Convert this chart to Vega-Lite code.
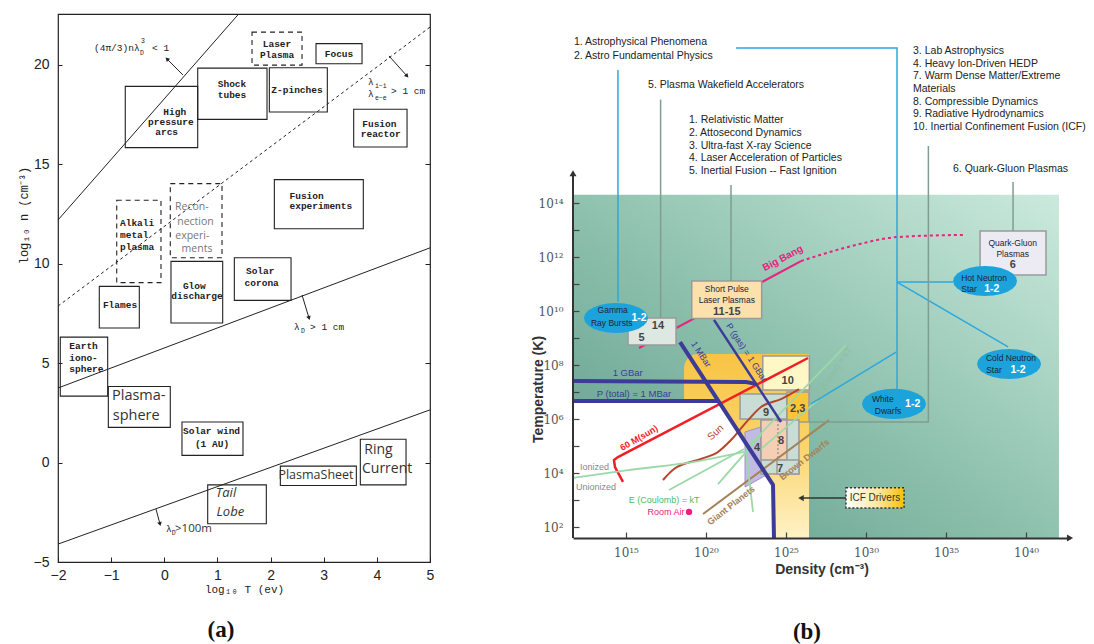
{
  "$schema": "https://vega.github.io/schema/vega-lite/v6.json",
  "padding": {"left": 16, "top": 11, "right": 5, "bottom": 2},
  "background": "white",
  "spacing": 143,
  "bounds": "flush",
  "config": {"view": {"stroke": null}, "font": "Liberation Sans", "axis": {"grid": false}},
  "datasets": {
    "a_regions": [
      {"region": "Laser Plasma", "status": "tentative", "x1": 1.651, "x2": 2.592, "y1": 19.99, "y2": 21.65},
      {"region": "Focus", "status": "established", "x1": 2.855, "x2": 3.721, "y1": 20.06, "y2": 21.07},
      {"region": "Shock tubes", "status": "established", "x1": 0.629, "x2": 1.933, "y1": 17.26, "y2": 19.84},
      {"region": "Z-pinches", "status": "established", "x1": 1.977, "x2": 3.068, "y1": 17.63, "y2": 19.86},
      {"region": "High pressure arcs", "status": "established", "x1": -0.734, "x2": 0.629, "y1": 15.84, "y2": 18.92},
      {"region": "Fusion reactor", "status": "established", "x1": 3.564, "x2": 4.568, "y1": 15.87, "y2": 17.77},
      {"region": "Fusion experiments", "status": "established", "x1": 2.071, "x2": 3.745, "y1": 11.76, "y2": 14.23},
      {"region": "Alkali metal plasma", "status": "tentative", "x1": -0.895, "x2": -0.062, "y1": 9.05, "y2": 13.19},
      {"region": "Reconnection experiments", "status": "tentative", "x1": 0.113, "x2": 1.086, "y1": 10.3, "y2": 14.03},
      {"region": "Glow discharge", "status": "established", "x1": 0.126, "x2": 1.099, "y1": 7.02, "y2": 10.12},
      {"region": "Solar corona", "status": "established", "x1": 1.318, "x2": 2.385, "y1": 8.16, "y2": 10.3},
      {"region": "Flames", "status": "established", "x1": -1.223, "x2": -0.47, "y1": 6.77, "y2": 8.86},
      {"region": "Earth ionosphere", "status": "established", "x1": -1.957, "x2": -1.065, "y1": 3.34, "y2": 6.31},
      {"region": "Plasmasphere", "status": "established", "x1": -1.053, "x2": 0.113, "y1": 1.77, "y2": 3.83},
      {"region": "Solar wind", "status": "established", "x1": 0.333, "x2": 1.481, "y1": 0.36, "y2": 2.04},
      {"region": "Plasma sheet", "status": "established", "x1": 2.184, "x2": 3.614, "y1": -1.15, "y2": -0.18},
      {"region": "Ring current", "status": "established", "x1": 3.689, "x2": 4.549, "y1": -1.12, "y2": 1.17},
      {"region": "Tail lobe", "status": "established", "x1": 0.817, "x2": 1.92, "y1": -3.08, "y2": -1.12}
    ],
    "a_limits": [
      {"criterion": "coupling", "x": -2, "y": 12.2},
      {"criterion": "coupling", "x": 1.4, "y": 22.56},
      {"criterion": "debye 1 cm", "x": -2, "y": 3.75},
      {"criterion": "debye 1 cm", "x": 5, "y": 10.8},
      {"criterion": "debye 100 m", "x": -2, "y": -4.1},
      {"criterion": "debye 100 m", "x": 5, "y": 2.65},
      {"criterion": "mean free path 1 cm", "x": -2, "y": 7.87},
      {"criterion": "mean free path 1 cm", "x": 5, "y": 21.9}
    ],
    "a_arrows": [
      {"criterion": "coupling", "x": 0.352, "y": 19.49, "x2": 0.051, "y2": 20.3, "heading": 315},
      {"criterion": "mean free path 1 cm", "x": 4.229, "y": 20.45, "x2": 4.568, "y2": 19.44, "heading": 138},
      {"criterion": "debye 1 cm", "x": 2.592, "y": 8.43, "x2": 2.723, "y2": 7.27, "heading": 163},
      {"criterion": "debye 100 m", "x": -0.156, "y": -2.34, "x2": -0.081, "y2": -3.09, "heading": 165}
    ],
    "a_names_centred": [
      {"text": "Laser", "x": 2.121, "y": 21.05},
      {"text": "Plasma", "x": 2.121, "y": 20.49},
      {"text": "Focus", "x": 3.288, "y": 20.55},
      {"text": "Shock", "x": 1.274, "y": 19.04},
      {"text": "tubes", "x": 1.274, "y": 18.49},
      {"text": "Z-pinches", "x": 2.497, "y": 18.74},
      {"text": "High", "x": 0.196, "y": 17.63},
      {"text": "pressure", "x": 0.123, "y": 17.13},
      {"text": "arcs", "x": 0.045, "y": 16.62},
      {"text": "Fusion", "x": 4.047, "y": 17.03},
      {"text": "reactor", "x": 4.072, "y": 16.52},
      {"text": "Glow", "x": 0.565, "y": 8.88},
      {"text": "discharge", "x": 0.616, "y": 8.38},
      {"text": "Solar", "x": 1.805, "y": 9.63},
      {"text": "corona", "x": 1.833, "y": 9.03},
      {"text": "Flames", "x": -0.833, "y": 7.92},
      {"text": "Solar wind", "x": 0.889, "y": 1.58},
      {"text": "(1 AU)", "x": 0.898, "y": 0.91}
    ],
    "a_names_left": [
      {"text": "Fusion", "x": 2.356, "y": 13.4},
      {"text": "experiments", "x": 2.356, "y": 12.9},
      {"text": "Alkali", "x": -0.833, "y": 12.05},
      {"text": "metal", "x": -0.833, "y": 11.44},
      {"text": "plasma", "x": -0.833, "y": 10.84},
      {"text": "Earth", "x": -1.787, "y": 5.86},
      {"text": "iono-", "x": -1.787, "y": 5.26},
      {"text": "sphere", "x": -1.787, "y": 4.7}
    ],
    "a_limit_text": [
      {"text": "(4π/3)nλ", "x": -1.323, "y": 20.85},
      {"text": "< 1", "x": -0.231, "y": 20.85},
      {"text": "λ", "x": 3.834, "y": 19.14},
      {"text": "λ", "x": 3.834, "y": 18.54},
      {"text": "> 1 cm", "x": 4.266, "y": 18.69},
      {"text": "λ", "x": 2.441, "y": 6.82},
      {"text": "> 1 cm", "x": 2.742, "y": 6.82},
      {"text": "λ", "x": 0.032, "y": -3.35}
    ],
    "a_limit_small": [
      {"text": "3", "x": -0.438, "y": 21.2},
      {"text": "D", "x": -0.457, "y": 20.6},
      {"text": "i−i", "x": 3.965, "y": 18.94},
      {"text": "e−e", "x": 3.965, "y": 18.34},
      {"text": "D", "x": 2.573, "y": 6.62},
      {"text": "D", "x": 0.14, "y": -3.55}
    ],
    "a_hand": [
      {"text": "Recon-", "x": 0.518, "y": 12.85, "region": "Reconnection experiments"},
      {"text": "nection", "x": 0.587, "y": 12.12, "region": "Reconnection experiments"},
      {"text": "experi-", "x": 0.527, "y": 11.4, "region": "Reconnection experiments"},
      {"text": "ments", "x": 0.616, "y": 10.72, "region": "Reconnection experiments"},
      {"text": "Plasma-", "x": -0.984, "y": 3.33, "region": "Plasmasphere"},
      {"text": "sphere", "x": -0.97, "y": 2.36, "region": "Plasmasphere"},
      {"text": "PlasmaSheet", "x": 2.855, "y": -0.63, "region": "Plasma sheet"},
      {"text": "Ring", "x": 3.764, "y": 0.62, "region": "Ring current"},
      {"text": "Current", "x": 3.72, "y": -0.32, "region": "Ring current"},
      {"text": "Tail", "x": 1.161, "y": -1.55, "region": "Tail lobe"},
      {"text": "Lobe", "x": 1.243, "y": -2.5, "region": "Tail lobe"},
      {"text": ">100m", "x": 0.202, "y": -3.35, "region": "Debye 100 m"}
    ],
    "a_caption": [{"text": "(a)", "x": 1.067, "y": -8.43}],
    "b_domain": [{"zone": "parameter space", "x1": 11.69, "x2": 42.06, "y1": 1.593, "y2": 14.31}],
    "b_icf_zone": [{"zone": "ICF", "x1": 18.63, "x2": 26.44, "y1": 1.593, "y2": 8.41}],
    "b_cold": [
      {"x": 11.69, "top": 6.67, "bottom": 1.593},
      {"x": 20.75, "top": 6.67, "bottom": 1.593},
      {"x": 24.19, "top": 3.56, "bottom": 1.593},
      {"x": 24.25, "top": 1.593, "bottom": 1.593}
    ],
    "b_purple": [
      {"x": 22.44, "top": 5.52, "bottom": 3.48},
      {"x": 24.44, "top": 5.89, "bottom": 4.15}
    ],
    "b_boxes": [
      {"box": "14, 5", "x1": 15.13, "x2": 18.13, "y1": 8.74, "y2": 9.74},
      {"box": "11-15", "x1": 19.11, "x2": 23.48, "y1": 9.72, "y2": 11.11},
      {"box": "6", "x1": 37.13, "x2": 41.25, "y1": 11.33, "y2": 12.96},
      {"box": "10", "x1": 23.55, "x2": 26.46, "y1": 7.07, "y2": 8.33},
      {"box": "9", "x1": 22.13, "x2": 25.06, "y1": 6.0, "y2": 6.93},
      {"box": "2,3", "x1": 25.06, "x2": 26.44, "y1": 5.89, "y2": 7.0},
      {"box": "7-8", "x1": 23.44, "x2": 25.81, "y1": 3.96, "y2": 5.96},
      {"box": "8", "x1": 23.44, "x2": 25.06, "y1": 4.48, "y2": 5.96},
      {"box": "7", "x1": 24.44, "x2": 25.81, "y1": 3.96, "y2": 4.48}
    ],
    "b_icf_box": [{"label": "ICF Drivers", "x1": 28.75, "x2": 32.38, "y1": 2.7, "y2": 3.45}],
    "b_curves": [
      {"curve": "Big Bang", "i": 0, "x": 15.815, "y": 8.63},
      {"curve": "Big Bang", "i": 1, "x": 25.94, "y": 11.85},
      {"curve": "Big Bang extrapolated", "i": 0, "x": 25.94, "y": 11.85},
      {"curve": "Big Bang extrapolated", "i": 1, "x": 28.88, "y": 12.37},
      {"curve": "Big Bang extrapolated", "i": 2, "x": 32.0, "y": 12.74},
      {"curve": "Big Bang extrapolated", "i": 3, "x": 36.13, "y": 12.82},
      {"curve": "60 M(sun)", "i": 0, "x": 14.815, "y": 3.67},
      {"curve": "60 M(sun)", "i": 1, "x": 14.315, "y": 4.22},
      {"curve": "60 M(sun)", "i": 2, "x": 14.25, "y": 4.48},
      {"curve": "60 M(sun)", "i": 3, "x": 14.5, "y": 4.59},
      {"curve": "60 M(sun)", "i": 4, "x": 26.38, "y": 8.26},
      {"curve": "Sun", "i": 0, "x": 17.315, "y": 3.74},
      {"curve": "Sun", "i": 1, "x": 18.0, "y": 4.15},
      {"curve": "Sun", "i": 2, "x": 19.69, "y": 4.52},
      {"curve": "Sun", "i": 3, "x": 20.75, "y": 4.78},
      {"curve": "Sun", "i": 4, "x": 21.565, "y": 5.22},
      {"curve": "Sun", "i": 5, "x": 22.63, "y": 5.96},
      {"curve": "Sun", "i": 6, "x": 23.44, "y": 6.445},
      {"curve": "Sun", "i": 7, "x": 24.69, "y": 6.74},
      {"curve": "Sun", "i": 8, "x": 25.815, "y": 7.11},
      {"curve": "Planets and dwarfs", "i": 0, "x": 19.815, "y": 2.48},
      {"curve": "Planets and dwarfs", "i": 1, "x": 27.69, "y": 5.96},
      {"curve": "Ionization", "i": 0, "x": 11.69, "y": 3.82},
      {"curve": "Ionization", "i": 1, "x": 15.13, "y": 4.11},
      {"curve": "Ionization", "i": 2, "x": 19.25, "y": 4.41},
      {"curve": "Ionization", "i": 3, "x": 22.38, "y": 4.78},
      {"curve": "Coulomb a", "i": 0, "x": 17.69, "y": 3.37},
      {"curve": "Coulomb a", "i": 1, "x": 22.38, "y": 4.89},
      {"curve": "Coulomb b", "i": 0, "x": 20.75, "y": 3.59},
      {"curve": "Coulomb b", "i": 1, "x": 23.44, "y": 5.41},
      {"curve": "Coulomb c", "i": 0, "x": 22.94, "y": 2.56},
      {"curve": "Coulomb c", "i": 1, "x": 22.5, "y": 4.85},
      {"curve": "Fermi a", "i": 0, "x": 22.5, "y": 4.89},
      {"curve": "Fermi a", "i": 1, "x": 28.75, "y": 8.74},
      {"curve": "Fermi b", "i": 0, "x": 23.44, "y": 4.89},
      {"curve": "Fermi b", "i": 1, "x": 27.0, "y": 6.7},
      {"curve": "1 GBar", "i": 0, "x": 11.69, "y": 7.41},
      {"curve": "1 GBar", "i": 1, "x": 22.5, "y": 7.37},
      {"curve": "1 GBar", "i": 2, "x": 23.13, "y": 7.3},
      {"curve": "P total 1 MBar", "i": 0, "x": 11.69, "y": 6.67},
      {"curve": "P total 1 MBar", "i": 1, "x": 20.75, "y": 6.67},
      {"curve": "1 MBar", "i": 0, "x": 18.38, "y": 8.85},
      {"curve": "1 MBar", "i": 1, "x": 24.19, "y": 3.56},
      {"curve": "1 MBar", "i": 2, "x": 24.25, "y": 1.593},
      {"curve": "P gas 1 GBar", "i": 0, "x": 20.5, "y": 9.67},
      {"curve": "P gas 1 GBar", "i": 1, "x": 24.69, "y": 5.89}
    ],
    "b_links": [
      {"link": "Astro GRB", "family": "astro", "i": 0, "x": 14.5, "y": 18.93},
      {"link": "Astro GRB", "family": "astro", "i": 1, "x": 14.5, "y": 10.33},
      {"link": "Astro compact", "family": "astro", "i": 0, "x": 21.88, "y": 19.74},
      {"link": "Astro compact", "family": "astro", "i": 1, "x": 31.94, "y": 19.74},
      {"link": "Astro compact", "family": "astro", "i": 2, "x": 31.94, "y": 7.11},
      {"link": "Astro hot NS", "family": "astro", "i": 0, "x": 31.94, "y": 11.07},
      {"link": "Astro hot NS", "family": "astro", "i": 1, "x": 35.44, "y": 11.07},
      {"link": "Astro cold NS", "family": "astro", "i": 0, "x": 31.94, "y": 11.07},
      {"link": "Astro cold NS", "family": "astro", "i": 1, "x": 38.88, "y": 8.67},
      {"link": "Astro lab", "family": "astro", "i": 0, "x": 31.88, "y": 8.48},
      {"link": "Astro lab", "family": "astro", "i": 1, "x": 26.56, "y": 6.56},
      {"link": "Wakefield", "family": "lab", "i": 0, "x": 17.165, "y": 17.83},
      {"link": "Wakefield", "family": "lab", "i": 1, "x": 17.165, "y": 9.74},
      {"link": "Short pulse", "family": "lab", "i": 0, "x": 21.565, "y": 14.67},
      {"link": "Short pulse", "family": "lab", "i": 1, "x": 21.565, "y": 11.11},
      {"link": "HEDP", "family": "lab", "i": 0, "x": 33.9, "y": 16.11},
      {"link": "HEDP", "family": "lab", "i": 1, "x": 33.9, "y": 5.89},
      {"link": "HEDP", "family": "lab", "i": 2, "x": 26.44, "y": 5.89},
      {"link": "QGP", "family": "lab", "i": 0, "x": 39.19, "y": 14.78},
      {"link": "QGP", "family": "lab", "i": 1, "x": 39.19, "y": 12.96}
    ],
    "b_divider": [{"x": 24.5, "y": 5.96, "y2": 4.48}],
    "b_icf_arrow": [{"x": 28.75, "x2": 25.94, "y": 3.07}],
    "b_objects": [
      {"object": "Gamma Ray Bursts", "x": 14.375, "y": 9.74},
      {"object": "Hot Neutron Star", "x": 37.44, "y": 11.11},
      {"object": "Cold Neutron Star", "x": 38.94, "y": 8.04},
      {"object": "White Dwarfs", "x": 31.75, "y": 6.56}
    ],
    "b_room_air": [{"x": 18.94, "y": 2.56}],
    "b_axis": [{"x": 11.69, "y": 1.593, "y2": 15.1}],
    "b_axis_tips": [
      {"axis": "temperature", "x": 11.69, "y": 15.1},
      {"axis": "density", "x": 42.75, "y": 1.593}
    ],
    "b_topics": [
      {"text": "1. Astrophysical Phenomena", "x": 11.75, "y": 19.96},
      {"text": "2. Astro Fundamental Physics", "x": 11.75, "y": 19.45},
      {"text": "5. Plasma Wakefield Accelerators", "x": 16.38, "y": 18.37},
      {"text": "1. Relativistic Matter", "x": 18.94, "y": 17.07},
      {"text": "2. Attosecond Dynamics", "x": 18.94, "y": 16.59},
      {"text": "3. Ultra-fast X-ray Science", "x": 18.94, "y": 16.11},
      {"text": "4. Laser Acceleration of Particles", "x": 18.94, "y": 15.67},
      {"text": "5. Inertial Fusion -- Fast Ignition", "x": 18.94, "y": 15.19},
      {"text": "3. Lab Astrophysics", "x": 32.94, "y": 19.63},
      {"text": "4. Heavy Ion-Driven HEDP", "x": 32.94, "y": 19.15},
      {"text": "7. Warm Dense Matter/Extreme", "x": 32.94, "y": 18.7},
      {"text": "Materials", "x": 32.94, "y": 18.22},
      {"text": "8. Compressible Dynamics", "x": 32.94, "y": 17.74},
      {"text": "9. Radiative Hydrodynamics", "x": 32.94, "y": 17.3},
      {"text": "10. Inertial Confinement Fusion (ICF)", "x": 32.94, "y": 16.81},
      {"text": "6. Quark-Gluon Plasmas", "x": 35.44, "y": 15.26}
    ],
    "b_object_text": [
      {"text": "Gamma", "x": 14.17, "y": 10.04},
      {"text": "Ray Bursts", "x": 14.11, "y": 9.57},
      {"text": "Hot Neutron", "x": 37.38, "y": 11.22},
      {"text": "Star", "x": 36.44, "y": 10.815},
      {"text": "Cold Neutron", "x": 39.06, "y": 8.26},
      {"text": "Star", "x": 38.0, "y": 7.83},
      {"text": "White", "x": 31.05, "y": 6.74},
      {"text": "Dwarfs", "x": 31.38, "y": 6.3},
      {"text": "Quark-Gluon", "x": 39.17, "y": 12.53},
      {"text": "Plasmas", "x": 39.17, "y": 12.12},
      {"text": "Short Pulse", "x": 21.3, "y": 10.83},
      {"text": "Laser Plasmas", "x": 21.3, "y": 10.41}
    ],
    "b_object_ids": [
      {"text": "1-2", "x": 15.815, "y": 9.74},
      {"text": "1-2", "x": 37.86, "y": 10.815},
      {"text": "1-2", "x": 39.5, "y": 7.83},
      {"text": "1-2", "x": 32.92, "y": 6.57}
    ],
    "b_box_ids": [
      {"text": "14", "x": 17.0, "y": 9.44},
      {"text": "5", "x": 15.98, "y": 9.0},
      {"text": "11-15", "x": 21.3, "y": 9.96},
      {"text": "6", "x": 39.17, "y": 11.7},
      {"text": "10", "x": 25.11, "y": 7.41},
      {"text": "9", "x": 23.75, "y": 6.22},
      {"text": "2,3", "x": 25.73, "y": 6.38},
      {"text": "8", "x": 24.69, "y": 5.19},
      {"text": "7", "x": 24.63, "y": 4.15},
      {"text": "4", "x": 23.19, "y": 4.93}
    ],
    "b_curve_text": [
      {"text": "1 GBar", "curve": "1 GBar", "x": 15.11, "y": 7.7},
      {"text": "P (total) = 1 MBar", "curve": "P total 1 MBar", "x": 15.5, "y": 6.94},
      {"text": "1 MBar", "curve": "1 MBar", "x": 19.7, "y": 8.4},
      {"text": "P (gas) = 1 GBar", "curve": "P gas 1 GBar", "x": 22.55, "y": 8.46},
      {"text": "Big Bang", "curve": "Big Bang", "x": 24.8, "y": 11.95},
      {"text": "60 M(sun)", "curve": "60 M(sun)", "x": 15.815, "y": 5.3},
      {"text": "Sun", "curve": "Sun", "x": 20.6, "y": 5.5},
      {"text": "Brown Dwarfs", "curve": "Planets and dwarfs", "x": 26.15, "y": 4.5},
      {"text": "Giant Planets", "curve": "Planets and dwarfs", "x": 21.565, "y": 2.8},
      {"text": "E (Fermi) = kT", "curve": "Fermi a", "x": 28.0, "y": 7.74},
      {"text": "Ionized", "curve": "Ionization", "x": 13.03, "y": 4.22},
      {"text": "Unionized", "curve": "Ionization", "x": 13.13, "y": 3.48},
      {"text": "E (Coulomb) = kT", "curve": "Coulomb a", "x": 17.38, "y": 3.0},
      {"text": "Room Air", "curve": "Room air", "x": 17.5, "y": 2.56},
      {"text": "ICF Drivers", "curve": "ICF", "x": 30.56, "y": 3.07}
    ],
    "b_caption": [{"text": "(b)", "x": 26.31, "y": -1.89}]
  },
  "hconcat": [
    {
      "width": 372,
      "height": 548,
      "view": {"stroke": "#222", "strokeWidth": 1.2},
      "resolve": {"axis": {"x": "independent", "y": "independent"}},
      "layer": [
        {
          "data": {"name": "a_regions"},
          "transform": [{"filter": "datum.status == 'established'"}],
          "mark": {"type": "rect", "fillOpacity": 0, "stroke": "#222", "strokeWidth": 1.1},
          "encoding": {
            "x": {"field": "x1", "type": "quantitative", "scale": {"domain": [-2, 5], "nice": false, "zero": false},
              "axis": {"values": [-2, -1, 0, 1, 2, 3, 4, 5], "title": "log₁₀ T (ev)", "domain": false, "tickSize": -5, "tickColor": "#222", "labelPadding": 11, "labelFont": "Liberation Sans", "labelFontSize": 14, "labelColor": "#222", "labelFlush": false, "labelOverlap": false, "titleFont": "Liberation Mono", "titleFontSize": 11, "titleFontWeight": "normal", "titleColor": "#222", "titlePadding": 1, "zindex": 1}},
            "x2": {"field": "x2"},
            "y": {"field": "y1", "type": "quantitative", "scale": {"domain": [-5, 22.56], "nice": false, "zero": false},
              "axis": {"values": [-5, 0, 5, 10, 15, 20], "title": "log₁₀ n (cm⁻³)", "domain": false, "tickSize": -4, "tickColor": "#222", "labelPadding": 13, "labelFont": "Liberation Sans", "labelFontSize": 14, "labelColor": "#222", "labelFlush": false, "labelOverlap": false, "titleFont": "Liberation Mono", "titleFontSize": 12, "titleFontWeight": "normal", "titleColor": "#222", "titleAngle": -90, "titleX": -35, "titleY": 201, "titleAlign": "center", "titleBaseline": "middle", "zindex": 1}},
            "y2": {"field": "y2"}
          }
        },
        {
          "data": {"name": "a_limits"},
          "transform": [{"filter": "datum.criterion != 'mean free path 1 cm'"}],
          "mark": {"type": "line", "color": "#222", "strokeWidth": 1},
          "encoding": {
            "x": {"field": "x", "type": "quantitative", "axis": null},
            "y": {"field": "y", "type": "quantitative", "axis": {"orient": "right", "values": [-5, 0, 5, 10, 15, 20], "labels": false, "title": null, "domain": false, "tickSize": -5, "tickColor": "#222", "zindex": 1}},
            "detail": {"field": "criterion"}
          }
        },
        {
          "data": {"name": "a_limits"},
          "transform": [{"filter": "datum.criterion == 'mean free path 1 cm'"}],
          "mark": {"type": "line", "color": "#222", "strokeWidth": 1, "strokeDash": [3, 3]},
          "encoding": {
            "x": {"field": "x", "type": "quantitative", "axis": null},
            "y": {"field": "y", "type": "quantitative", "axis": null}
          }
        },
        {
          "data": {"name": "a_regions"},
          "transform": [{"filter": "datum.status == 'tentative'"}],
          "mark": {"type": "rect", "fillOpacity": 0, "stroke": "#222", "strokeWidth": 1.1, "strokeDash": [5, 4]},
          "encoding": {
            "x": {"field": "x1", "type": "quantitative", "axis": null},
            "x2": {"field": "x2"},
            "y": {"field": "y1", "type": "quantitative", "axis": null},
            "y2": {"field": "y2"}
          }
        },
        {
          "data": {"name": "a_arrows"},
          "mark": {"type": "rule", "color": "#222", "strokeWidth": 1},
          "encoding": {
            "x": {"field": "x", "type": "quantitative", "axis": null},
            "y": {"field": "y", "type": "quantitative", "axis": null},
            "x2": {"field": "x2"},
            "y2": {"field": "y2"}
          }
        },
        {
          "data": {"name": "a_arrows"},
          "mark": {"type": "point", "shape": "triangle-up", "size": 22, "filled": true, "color": "#222", "opacity": 1},
          "encoding": {
            "x": {"field": "x2", "type": "quantitative", "axis": null},
            "y": {"field": "y2", "type": "quantitative", "axis": null},
            "angle": {"field": "heading", "type": "quantitative", "scale": null}
          }
        },
        {
          "data": {"name": "a_names_centred"},
          "mark": {"type": "text", "font": "Liberation Mono", "fontSize": 9.5, "fontWeight": "bold", "color": "#222", "align": "center", "baseline": "middle"},
          "encoding": {
            "x": {"field": "x", "type": "quantitative", "axis": null},
            "y": {"field": "y", "type": "quantitative", "axis": null},
            "text": {"field": "text"}
          }
        },
        {
          "data": {"name": "a_names_left"},
          "mark": {"type": "text", "font": "Liberation Mono", "fontSize": 9.5, "fontWeight": "bold", "color": "#222", "align": "left", "baseline": "middle"},
          "encoding": {
            "x": {"field": "x", "type": "quantitative", "axis": null},
            "y": {"field": "y", "type": "quantitative", "axis": null},
            "text": {"field": "text"}
          }
        },
        {
          "data": {"name": "a_limit_text"},
          "mark": {"type": "text", "font": "Liberation Mono", "fontSize": 9.5, "color": "#222", "align": "left", "baseline": "middle"},
          "encoding": {
            "x": {"field": "x", "type": "quantitative", "axis": null},
            "y": {"field": "y", "type": "quantitative", "axis": null},
            "text": {"field": "text"}
          }
        },
        {
          "data": {"name": "a_limit_small"},
          "mark": {"type": "text", "font": "Liberation Mono", "fontSize": 6.5, "color": "#222", "align": "left", "baseline": "middle"},
          "encoding": {
            "x": {"field": "x", "type": "quantitative", "axis": null},
            "y": {"field": "y", "type": "quantitative", "axis": null},
            "text": {"field": "text"}
          }
        },
        {
          "data": {"name": "a_hand"},
          "transform": [{"filter": "datum.region == 'Reconnection experiments'"}],
          "mark": {"type": "text", "font": "Open Sans", "fontSize": 10.5, "color": "#777", "align": "center", "baseline": "middle"},
          "encoding": {
            "x": {"field": "x", "type": "quantitative", "axis": null},
            "y": {"field": "y", "type": "quantitative", "axis": null},
            "text": {"field": "text"}
          }
        },
        {
          "data": {"name": "a_hand"},
          "transform": [{"filter": "datum.region == 'Plasmasphere'"}],
          "mark": {"type": "text", "font": "Open Sans", "fontSize": 14.5, "color": "#333", "align": "left", "baseline": "middle"},
          "encoding": {
            "x": {"field": "x", "type": "quantitative", "axis": null},
            "y": {"field": "y", "type": "quantitative", "axis": null},
            "text": {"field": "text"}
          }
        },
        {
          "data": {"name": "a_hand"},
          "transform": [{"filter": "datum.region == 'Ring current'"}],
          "mark": {"type": "text", "font": "Open Sans", "fontSize": 14, "color": "#333", "align": "left", "baseline": "middle"},
          "encoding": {
            "x": {"field": "x", "type": "quantitative", "axis": null},
            "y": {"field": "y", "type": "quantitative", "axis": null},
            "text": {"field": "text"}
          }
        },
        {
          "data": {"name": "a_hand"},
          "transform": [{"filter": "datum.region == 'Plasma sheet'"}],
          "mark": {"type": "text", "font": "Open Sans", "fontSize": 12.5, "color": "#333", "align": "center", "baseline": "middle"},
          "encoding": {
            "x": {"field": "x", "type": "quantitative", "axis": null},
            "y": {"field": "y", "type": "quantitative", "axis": null},
            "text": {"field": "text"}
          }
        },
        {
          "data": {"name": "a_hand"},
          "transform": [{"filter": "datum.region == 'Tail lobe'"}],
          "mark": {"type": "text", "font": "Open Sans", "fontSize": 13, "fontStyle": "italic", "color": "#333", "align": "center", "baseline": "middle"},
          "encoding": {
            "x": {"field": "x", "type": "quantitative", "axis": null},
            "y": {"field": "y", "type": "quantitative", "axis": null},
            "text": {"field": "text"}
          }
        },
        {
          "data": {"name": "a_hand"},
          "transform": [{"filter": "datum.region == 'Debye 100 m'"}],
          "mark": {"type": "text", "font": "Open Sans", "fontSize": 11.5, "color": "#333", "align": "left", "baseline": "middle"},
          "encoding": {
            "x": {"field": "x", "type": "quantitative", "axis": null},
            "y": {"field": "y", "type": "quantitative", "axis": null},
            "text": {"field": "text"}
          }
        },
        {
          "data": {"name": "a_caption"},
          "mark": {"type": "text", "font": "Liberation Serif", "fontSize": 23, "fontWeight": "bold", "color": "#111", "align": "center", "baseline": "middle"},
          "encoding": {
            "x": {"field": "x", "type": "quantitative", "axis": null},
            "y": {"field": "y", "type": "quantitative", "axis": null},
            "text": {"field": "text"}
          }
        }
      ]
    },
    {
      "width": 497,
      "height": 524,
      "resolve": {"axis": {"x": "independent", "y": "independent"}},
      "layer": [
        {
          "data": {"name": "b_domain"},
          "mark": {"type": "rect", "color": {"gradient": "linear", "x1": 0, "y1": 1, "x2": 1, "y2": 0, "stops": [{"offset": 0, "color": "#5e9b88"}, {"offset": 0.5, "color": "#8fc2af"}, {"offset": 1, "color": "#cbeadd"}]}},
          "encoding": {
            "x": {"field": "x1", "type": "quantitative", "scale": {"domain": [11.69, 42.75], "nice": false, "zero": false},
              "axis": {"values": [15, 20, 25, 30, 35, 40], "labelExpr": "'10' + replace(replace(replace(replace(replace(replace(datum.label,'0','⁰'),'1','¹'),'2','²'),'3','³'),'4','⁴'),'5','⁵')", "title": "Density (cm⁻³)", "domain": true, "domainColor": "#333", "domainWidth": 2, "tickSize": -6, "tickColor": "#444", "tickWidth": 1.2, "labelPadding": 15, "labelFont": "DejaVu Serif", "labelFontSize": 12, "labelColor": "#555", "labelFlush": false, "labelOverlap": false, "titleFont": "Liberation Sans", "titleFontSize": 14, "titleFontWeight": "bold", "titleColor": "#333", "titlePadding": 4, "zindex": 1}},
            "x2": {"field": "x2"},
            "y": {"field": "y1", "type": "quantitative", "scale": {"domain": [1.593, 21.0], "nice": false, "zero": false},
              "axis": {"values": [2, 3, 4, 5, 6, 7, 8, 9, 10, 11, 12, 13, 14], "labelExpr": "datum.value % 2 == 0 ? '10' + replace(replace(replace(replace(replace(replace(datum.label,'0','⁰'),'1','¹'),'2','²'),'4','⁴'),'6','⁶'),'8','⁸') : ''", "title": "Temperature (K)", "domain": false, "tickSize": -6, "tickColor": "#444", "tickWidth": 1.2, "labelPadding": 16, "labelFont": "DejaVu Serif", "labelFontSize": 12, "labelColor": "#555", "labelFlush": false, "labelOverlap": false, "titleFont": "Liberation Sans", "titleFontSize": 14, "titleFontWeight": "bold", "titleColor": "#333", "titleAngle": -90, "titleX": -35, "titleY": 375, "titleAlign": "center", "titleBaseline": "middle", "zindex": 1}},
            "y2": {"field": "y2"}
          }
        },
        {
          "data": {"name": "b_icf_zone"},
          "mark": {"type": "rect", "cornerRadiusTopLeft": 14, "color": {"gradient": "linear", "x1": 0, "y1": 0, "x2": 0, "y2": 1, "stops": [{"offset": 0, "color": "#f8c444"}, {"offset": 0.5, "color": "#fbd46c"}, {"offset": 1, "color": "#fff2c6"}]}},
          "encoding": {
            "x": {"field": "x1", "type": "quantitative", "axis": null},
            "x2": {"field": "x2"},
            "y": {"field": "y2", "type": "quantitative", "axis": null},
            "y2": {"field": "y1"}
          }
        },
        {
          "data": {"name": "b_cold"},
          "mark": {"type": "area", "color": "white", "opacity": 1},
          "encoding": {
            "x": {"field": "x", "type": "quantitative", "axis": null},
            "y": {"field": "top", "type": "quantitative", "axis": null},
            "y2": {"field": "bottom"}
          }
        },
        {
          "data": {"name": "b_purple"},
          "mark": {"type": "area", "color": "#c1bae3", "opacity": 1, "stroke": "#9b94c6", "strokeWidth": 1},
          "encoding": {
            "x": {"field": "x", "type": "quantitative", "axis": null},
            "y": {"field": "top", "type": "quantitative", "axis": null},
            "y2": {"field": "bottom"}
          }
        },
        {
          "data": {"name": "b_curves"},
          "transform": [{"filter": "datum.curve == 'Big Bang'"}],
          "mark": {"type": "line", "color": "#e6237e", "strokeWidth": 2},
          "encoding": {
            "x": {"field": "x", "type": "quantitative", "axis": null},
            "y": {"field": "y", "type": "quantitative", "axis": null},
            "order": {"field": "i"}
          }
        },
        {
          "data": {"name": "b_curves"},
          "transform": [{"filter": "datum.curve == 'Big Bang extrapolated'"}],
          "mark": {"type": "line", "color": "#e6237e", "strokeWidth": 2, "strokeDash": [3, 3], "interpolate": "monotone"},
          "encoding": {
            "x": {"field": "x", "type": "quantitative", "axis": null},
            "y": {"field": "y", "type": "quantitative", "axis": null},
            "order": {"field": "i"}
          }
        },
        {
          "data": {"name": "b_boxes"},
          "mark": {"type": "rect", "stroke": "#9a9a9a", "strokeWidth": 1.5, "opacity": 1},
          "encoding": {
            "x": {"field": "x1", "type": "quantitative", "axis": null},
            "x2": {"field": "x2"},
            "y": {"field": "y1", "type": "quantitative", "axis": null},
            "y2": {"field": "y2"},
            "fill": {"field": "box", "type": "nominal", "legend": null,
              "scale": {"domain": ["14, 5", "11-15", "6", "10", "9", "2,3", "7-8", "8", "7"], "range": ["#dde8e3", "#fde1ad", "#ecebf4", "#fff8c6", "#c9dcd6", "#fbc53b", "#c9dcd6", "#f5cfb5", "#c9dcd6"]}}
          }
        },
        {
          "data": {"name": "b_divider"},
          "mark": {"type": "rule", "color": "#777", "strokeWidth": 1, "strokeDash": [2, 2]},
          "encoding": {
            "x": {"field": "x", "type": "quantitative", "axis": null},
            "y": {"field": "y", "type": "quantitative", "axis": null},
            "y2": {"field": "y2"}
          }
        },
        {
          "data": {"name": "b_icf_box"},
          "mark": {"type": "rect", "stroke": "#333", "strokeWidth": 1.5, "strokeDash": [2, 2], "color": {"gradient": "linear", "x1": 0, "y1": 0, "x2": 1, "y2": 0, "stops": [{"offset": 0, "color": "#ffffff"}, {"offset": 0.55, "color": "#fde8a0"}, {"offset": 1, "color": "#f6c000"}]}},
          "encoding": {
            "x": {"field": "x1", "type": "quantitative", "axis": null},
            "x2": {"field": "x2"},
            "y": {"field": "y1", "type": "quantitative", "axis": null},
            "y2": {"field": "y2"}
          }
        },
        {
          "data": {"name": "b_curves"},
          "transform": [{"filter": "datum.curve == '60 M(sun)'"}],
          "mark": {"type": "line", "color": "#ee2025", "strokeWidth": 2.5},
          "encoding": {
            "x": {"field": "x", "type": "quantitative", "axis": null},
            "y": {"field": "y", "type": "quantitative", "axis": null},
            "order": {"field": "i"}
          }
        },
        {
          "data": {"name": "b_curves"},
          "transform": [{"filter": "datum.curve == 'Sun'"}],
          "mark": {"type": "line", "color": "#b4452b", "strokeWidth": 2, "interpolate": "monotone"},
          "encoding": {
            "x": {"field": "x", "type": "quantitative", "axis": null},
            "y": {"field": "y", "type": "quantitative", "axis": null},
            "order": {"field": "i"}
          }
        },
        {
          "data": {"name": "b_curves"},
          "transform": [{"filter": "datum.curve == 'Planets and dwarfs'"}],
          "mark": {"type": "line", "color": "#a5835a", "strokeWidth": 2},
          "encoding": {
            "x": {"field": "x", "type": "quantitative", "axis": null},
            "y": {"field": "y", "type": "quantitative", "axis": null},
            "order": {"field": "i"}
          }
        },
        {
          "data": {"name": "b_curves"},
          "transform": [{"filter": {"field": "curve", "oneOf": ["Ionization", "Coulomb a", "Coulomb b", "Coulomb c", "Fermi a", "Fermi b"]}}],
          "mark": {"type": "line", "color": "#9bd9a7", "strokeWidth": 1.8, "interpolate": "monotone"},
          "encoding": {
            "x": {"field": "x", "type": "quantitative", "axis": null},
            "y": {"field": "y", "type": "quantitative", "axis": null},
            "detail": {"field": "curve"},
            "order": {"field": "i"}
          }
        },
        {
          "data": {"name": "b_curves"},
          "transform": [{"filter": {"field": "curve", "oneOf": ["1 GBar", "P total 1 MBar", "1 MBar"]}}],
          "mark": {"type": "line", "color": "#3d3b98", "strokeWidth": 4, "strokeJoin": "round"},
          "encoding": {
            "x": {"field": "x", "type": "quantitative", "axis": null},
            "y": {"field": "y", "type": "quantitative", "axis": null},
            "detail": {"field": "curve"},
            "order": {"field": "i"}
          }
        },
        {
          "data": {"name": "b_curves"},
          "transform": [{"filter": "datum.curve == 'P gas 1 GBar'"}],
          "mark": {"type": "line", "color": "#3d3b98", "strokeWidth": 2.5},
          "encoding": {
            "x": {"field": "x", "type": "quantitative", "axis": null},
            "y": {"field": "y", "type": "quantitative", "axis": null},
            "order": {"field": "i"}
          }
        },
        {
          "data": {"name": "b_links"},
          "transform": [{"filter": "datum.family == 'astro'"}],
          "mark": {"type": "line", "color": "#2ba8df", "strokeWidth": 1.5},
          "encoding": {
            "x": {"field": "x", "type": "quantitative", "axis": null},
            "y": {"field": "y", "type": "quantitative", "axis": null},
            "detail": {"field": "link"},
            "order": {"field": "i"}
          }
        },
        {
          "data": {"name": "b_links"},
          "transform": [{"filter": "datum.family == 'lab'"}],
          "mark": {"type": "line", "color": "#7f9d94", "strokeWidth": 1.5},
          "encoding": {
            "x": {"field": "x", "type": "quantitative", "axis": null},
            "y": {"field": "y", "type": "quantitative", "axis": null},
            "detail": {"field": "link"},
            "order": {"field": "i"}
          }
        },
        {
          "data": {"name": "b_icf_arrow"},
          "mark": {"type": "rule", "color": "#333", "strokeWidth": 1.5},
          "encoding": {
            "x": {"field": "x", "type": "quantitative", "axis": null},
            "x2": {"field": "x2"},
            "y": {"field": "y", "type": "quantitative", "axis": null}
          }
        },
        {
          "data": {"name": "b_icf_arrow"},
          "mark": {"type": "point", "shape": "triangle-left", "size": 40, "filled": true, "color": "#333", "opacity": 1},
          "encoding": {
            "x": {"field": "x2", "type": "quantitative", "axis": null},
            "y": {"field": "y", "type": "quantitative", "axis": null}
          }
        },
        {
          "data": {"name": "b_objects"},
          "mark": {"type": "point", "shape": "M1,0L0.966,0.122L0.866,0.235L0.707,0.332L0.5,0.407L0.259,0.454L0,0.47L-0.259,0.454L-0.5,0.407L-0.707,0.332L-0.866,0.235L-0.966,0.122L-1,0L-0.966,-0.122L-0.866,-0.235L-0.707,-0.332L-0.5,-0.407L-0.259,-0.454L0,-0.47L0.259,-0.454L0.5,-0.407L0.707,-0.332L0.866,-0.235L0.966,-0.122Z", "size": 4096, "filled": true, "color": "#1ca3dc", "opacity": 1},
          "encoding": {
            "x": {"field": "x", "type": "quantitative", "axis": null},
            "y": {"field": "y", "type": "quantitative", "axis": null}
          }
        },
        {
          "data": {"name": "b_room_air"},
          "mark": {"type": "point", "shape": "circle", "size": 40, "filled": true, "color": "#e6237e", "opacity": 1},
          "encoding": {
            "x": {"field": "x", "type": "quantitative", "axis": null},
            "y": {"field": "y", "type": "quantitative", "axis": null}
          }
        },
        {
          "data": {"name": "b_axis"},
          "mark": {"type": "rule", "color": "#333", "strokeWidth": 2},
          "encoding": {
            "x": {"field": "x", "type": "quantitative", "axis": null},
            "y": {"field": "y", "type": "quantitative", "axis": null},
            "y2": {"field": "y2"}
          }
        },
        {
          "data": {"name": "b_axis_tips"},
          "mark": {"type": "point", "size": 50, "filled": true, "color": "#333", "opacity": 1},
          "encoding": {
            "x": {"field": "x", "type": "quantitative", "axis": null},
            "y": {"field": "y", "type": "quantitative", "axis": null},
            "shape": {"field": "axis", "type": "nominal", "legend": null, "scale": {"domain": ["temperature", "density"], "range": ["triangle-up", "triangle-right"]}}
          }
        },
        {
          "data": {"name": "b_topics"},
          "mark": {"type": "text", "font": "Liberation Sans", "fontSize": 10.5, "color": "#222", "align": "left", "baseline": "middle"},
          "encoding": {
            "x": {"field": "x", "type": "quantitative", "axis": null},
            "y": {"field": "y", "type": "quantitative", "axis": null},
            "text": {"field": "text"}
          }
        },
        {
          "data": {"name": "b_object_text"},
          "mark": {"type": "text", "font": "Liberation Sans", "fontSize": 8.5, "color": "#1c2333", "align": "center", "baseline": "middle"},
          "encoding": {
            "x": {"field": "x", "type": "quantitative", "axis": null},
            "y": {"field": "y", "type": "quantitative", "axis": null},
            "text": {"field": "text"}
          }
        },
        {
          "data": {"name": "b_object_ids"},
          "mark": {"type": "text", "font": "Liberation Sans", "fontSize": 10.5, "fontWeight": "bold", "color": "#ffffff", "align": "center", "baseline": "middle"},
          "encoding": {
            "x": {"field": "x", "type": "quantitative", "axis": null},
            "y": {"field": "y", "type": "quantitative", "axis": null},
            "text": {"field": "text"}
          }
        },
        {
          "data": {"name": "b_box_ids"},
          "mark": {"type": "text", "font": "Liberation Sans", "fontSize": 11, "fontWeight": "bold", "color": "#444", "align": "center", "baseline": "middle"},
          "encoding": {
            "x": {"field": "x", "type": "quantitative", "axis": null},
            "y": {"field": "y", "type": "quantitative", "axis": null},
            "text": {"field": "text"}
          }
        },
        {
          "data": {"name": "b_curve_text"},
          "transform": [{"filter": {"field": "curve", "oneOf": ["1 GBar", "P total 1 MBar"]}}],
          "mark": {"type": "text", "fontSize": 9.5, "color": "#3d3b98", "align": "center", "baseline": "middle"},
          "encoding": {
            "x": {"field": "x", "type": "quantitative", "axis": null},
            "y": {"field": "y", "type": "quantitative", "axis": null},
            "text": {"field": "text"}
          }
        },
        {
          "data": {"name": "b_curve_text"},
          "transform": [{"filter": {"field": "curve", "oneOf": ["1 MBar", "P gas 1 GBar"]}}],
          "mark": {"type": "text", "fontSize": 9, "color": "#3d3b98", "align": "center", "baseline": "middle", "angle": 57},
          "encoding": {
            "x": {"field": "x", "type": "quantitative", "axis": null},
            "y": {"field": "y", "type": "quantitative", "axis": null},
            "text": {"field": "text"}
          }
        },
        {
          "data": {"name": "b_curve_text"},
          "transform": [{"filter": "datum.curve == 'Big Bang'"}],
          "mark": {"type": "text", "fontSize": 10, "fontWeight": "bold", "color": "#e6237e", "align": "center", "baseline": "middle", "angle": -28},
          "encoding": {
            "x": {"field": "x", "type": "quantitative", "axis": null},
            "y": {"field": "y", "type": "quantitative", "axis": null},
            "text": {"field": "text"}
          }
        },
        {
          "data": {"name": "b_curve_text"},
          "transform": [{"filter": "datum.curve == '60 M(sun)'"}],
          "mark": {"type": "text", "fontSize": 9, "fontWeight": "bold", "color": "#ee2025", "align": "center", "baseline": "middle", "angle": -30},
          "encoding": {
            "x": {"field": "x", "type": "quantitative", "axis": null},
            "y": {"field": "y", "type": "quantitative", "axis": null},
            "text": {"field": "text"}
          }
        },
        {
          "data": {"name": "b_curve_text"},
          "transform": [{"filter": "datum.curve == 'Sun'"}],
          "mark": {"type": "text", "fontSize": 10, "color": "#b4452b", "align": "center", "baseline": "middle", "angle": -42},
          "encoding": {
            "x": {"field": "x", "type": "quantitative", "axis": null},
            "y": {"field": "y", "type": "quantitative", "axis": null},
            "text": {"field": "text"}
          }
        },
        {
          "data": {"name": "b_curve_text"},
          "transform": [{"filter": "datum.curve == 'Planets and dwarfs'"}],
          "mark": {"type": "text", "fontSize": 9, "fontWeight": "bold", "color": "#a5835a", "align": "center", "baseline": "middle", "angle": -38},
          "encoding": {
            "x": {"field": "x", "type": "quantitative", "axis": null},
            "y": {"field": "y", "type": "quantitative", "axis": null},
            "text": {"field": "text"}
          }
        },
        {
          "data": {"name": "b_curve_text"},
          "transform": [{"filter": "datum.curve == 'Fermi a'"}],
          "mark": {"type": "text", "fontSize": 9, "color": "#8fbd9f", "align": "center", "baseline": "middle", "angle": -57},
          "encoding": {
            "x": {"field": "x", "type": "quantitative", "axis": null},
            "y": {"field": "y", "type": "quantitative", "axis": null},
            "text": {"field": "text"}
          }
        },
        {
          "data": {"name": "b_curve_text"},
          "transform": [{"filter": "datum.curve == 'Ionization'"}],
          "mark": {"type": "text", "fontSize": 9, "color": "#888", "align": "center", "baseline": "middle"},
          "encoding": {
            "x": {"field": "x", "type": "quantitative", "axis": null},
            "y": {"field": "y", "type": "quantitative", "axis": null},
            "text": {"field": "text"}
          }
        },
        {
          "data": {"name": "b_curve_text"},
          "transform": [{"filter": "datum.curve == 'Coulomb a'"}],
          "mark": {"type": "text", "fontSize": 9, "color": "#4dbb5f", "align": "center", "baseline": "middle"},
          "encoding": {
            "x": {"field": "x", "type": "quantitative", "axis": null},
            "y": {"field": "y", "type": "quantitative", "axis": null},
            "text": {"field": "text"}
          }
        },
        {
          "data": {"name": "b_curve_text"},
          "transform": [{"filter": "datum.curve == 'Room air'"}],
          "mark": {"type": "text", "fontSize": 9, "color": "#e6237e", "align": "center", "baseline": "middle"},
          "encoding": {
            "x": {"field": "x", "type": "quantitative", "axis": null},
            "y": {"field": "y", "type": "quantitative", "axis": null},
            "text": {"field": "text"}
          }
        },
        {
          "data": {"name": "b_curve_text"},
          "transform": [{"filter": "datum.curve == 'ICF'"}],
          "mark": {"type": "text", "fontSize": 10, "color": "#333", "align": "center", "baseline": "middle"},
          "encoding": {
            "x": {"field": "x", "type": "quantitative", "axis": null},
            "y": {"field": "y", "type": "quantitative", "axis": null},
            "text": {"field": "text"}
          }
        },
        {
          "data": {"name": "b_caption"},
          "mark": {"type": "text", "font": "Liberation Serif", "fontSize": 23, "fontWeight": "bold", "color": "#111", "align": "center", "baseline": "middle"},
          "encoding": {
            "x": {"field": "x", "type": "quantitative", "axis": null},
            "y": {"field": "y", "type": "quantitative", "axis": null},
            "text": {"field": "text"}
          }
        }
      ]
    }
  ]
}
